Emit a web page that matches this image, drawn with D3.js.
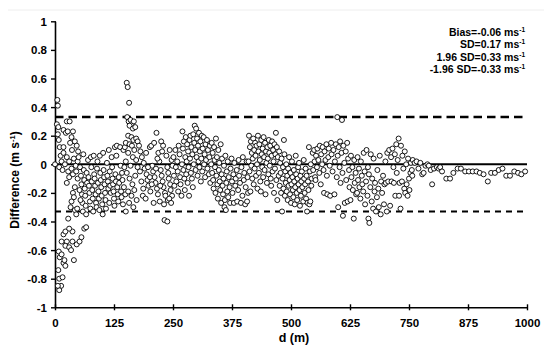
<!DOCTYPE html>
<html>
<head>
<meta charset="utf-8">
<script src="https://cdn.jsdelivr.net/npm/d3@7"></script>
<style>
  body { margin: 0; background: #fff; }
  svg text { font-family: "Liberation Sans", Arial, sans-serif; font-weight: bold; fill: #000; }
</style>
</head>
<body>
<svg id="chart" width="550" height="353"></svg>
<script>
// tick values
var xTicks = [0, 125, 250, 375, 500, 625, 750, 875, 1000];
var yTicks = [-1, -0.8, -0.6, -0.4, -0.2, 0, 0.2, 0.4, 0.6, 0.8, 1];

// reference lines (m s-1)
var bias = -0.06;
var upperLimit = 0.33;
var lowerLimit = -0.33;
var statLines = ["Bias=-0.06 ms", "SD=0.17 ms", "1.96 SD=0.33 ms", "-1.96 SD=-0.33 ms"];

// points, [d (m), difference (m s-1)], by distance range
var near = [
  [0,0],[5,.45],[6,.41],[4,.28],[7,.26],[6,.21],[8,.17],[10,.12],[12,.06],[14,.02],[9,-.02],
  [25,.30],[31,.30],[18,.24],[23,.22],[27,.23],[38,.23],[35,.19],[42,.16],[32,.15],[46,.13],
  [36,.10],[49,.09],[18,.12],[18,.08],[25,.05],[21,0],[30,.02],[40,.04],[44,-.01],[48,.02],
  [8,-.61],[10,-.65],[7,-.74],[9,-.8],[13,-.85],[9,-.88],[6,-.85],[16,-.79],[18,-.69],[14,-.63],
  [20,-.67],[22,-.71],[14,-.54],[18,-.49],[22,-.47],[25,-.54],[22,-.57],[30,-.58],[34,-.6],
  [37,-.54],[37,-.47],[30,-.45],[40,-.67],[46,-.56],[52,-.54],[56,-.51],[62,-.45],[66,-.44],
  [25,-.13],[28,-.38],[33,-.3],[35,-.26],[38,-.2],[40,-.23],[42,-.32],[42,-.16],[45,-.35],
  [47,-.31],[48,-.1],[28,-.05],[35,-.03],[16,-.04],[30,-.09],[38,-.07],[45,-.05]
];
var band50 = [
  [50,.05],[53,-.02],[55,-.08],[56,-.14],[57,-.21],[58,-.27],[59,-.33],[52,-.18],[54,-.25],
  [60,.07],[61,-.04],[62,-.11],[63,-.17],[64,-.22],[65,-.29],[66,-.35],[67,-.06],[68,-.13],
  [70,.03],[71,-.09],[72,-.15],[73,-.2],[74,-.26],[75,-.31],[76,.05],[77,-.02],[78,-.12],
  [79,-.18],[80,-.24],[81,-.33],[82,.06],[83,-.07],[84,-.1],[85,-.15],[86,-.21],[87,-.27],
  [88,-.3],[89,-.03],[90,.02],[91,-.13],[92,-.19],[93,-.24],[94,-.32],[95,.06],[96,-.06],
  [97,-.11],[98,-.16],[99,-.22],[100,-.28],[101,-.35],[102,.08],[103,-.04],[104,-.09],
  [105,-.14],[106,-.2],[107,-.25],[108,-.31],[110,.01],[111,-.08],[112,-.12],[113,-.17],
  [114,.1],[115,-.27],[116,-.05],[117,-.15],[118,-.2],[120,.05],[121,-.02],[122,-.1],
  [123,-.14],[124,-.19],[125,-.24],[126,-.29],[127,.12],[128,-.07],[129,-.12],[130,.06],
  [131,.13],[132,-.16],[133,-.21],[134,-.26],[135,-.09],[136,-.13],[138,.12],[139,-.01],
  [140,-.19],[141,-.23],[142,-.06],[143,-.11],[144,-.28],[145,.1],[146,-.16],[147,-.02],
  [148,.12],[149,-.21]
];
var band150 = [
  [152,.57],[154,.54],[157,.43],[153,.33],[156,.3],[160,.31],[162,.28],[158,.27],[165,.25],
  [170,.26],[167,.3],[155,.2],[162,.19],[166,.17],[150,.15],[158,.14],[163,.13],[172,.18],
  [175,.16],[168,.1],[155,.08],[165,.05],[172,.03],[150,.02],[160,-.01],[175,-.02],[152,-.06],
  [158,-.1],[164,-.14],[170,-.08],[155,-.19],[162,-.22],[168,-.18],[173,-.25],[150,-.33],
  [157,-.27],[166,-.3],
  [178,.13],[181,.09],[184,.05],[186,-.22],[188,.01],[190,-.03],[192,-.24],[194,-.07],
  [196,-.11],[198,-.15],[201,.12],[202,-.19],[204,.13],[206,-.01],[208,-.05],[210,.15],
  [211,-.09],[213,-.13],[215,.22],[216,-.17],[218,-.21],[219,.08],[221,.02],[222,-.26],
  [224,-.04],[225,.16],[226,-.08],[228,-.12],[229,.13],[230,-.16],[231,-.28],[232,-.39],
  [233,-.2],[236,.06],[238,-.4],[238,-.02],[239,-.25],[240,-.06],[241,-.1],[243,.1],
  [244,-.14],[245,-.18],[247,.03],[248,-.22],[249,-.01],[180,-.05],[183,-.12],[187,-.17],
  [193,.08],[197,-.02],[201,-.09],[205,-.14],[209,-.27],[214,-.03],[217,.04],[223,-.15],
  [227,.09],[234,-.22],[242,-.24],[246,-.27]
];
var band250 = [
  [251,.05],[252,-.08],[253,-.15],[255,.1],[256,-.02],[257,-.12],[259,.02],[260,-.05],
  [261,-.19],[262,.13],[264,.07],[265,-.09],[266,-.14],[268,-.22],[269,0],[270,.23],
  [271,.11],[272,-.04],[273,.16],[274,-.1],[275,-.18],[276,.05],[277,.19],[278,-.07],
  [279,.02],[280,.14],[281,-.13],[282,.09],[283,-.02],[284,-.22],[285,.17],[286,.04],
  [287,.2],[288,-.06],[289,.12],[290,-.1],[291,.07],[292,-.16],[293,.21],[294,0],[295,.15],
  [296,.27],[297,.1],[298,-.04],[299,.25],[300,.05],[301,.18],[302,-.08],[303,.13],[304,.02],
  [305,.22],[306,-.02],[307,.09],[308,.16],[309,-.12],[310,.04],[311,.2],[312,-.05],
  [313,.11],[315,.19],[316,0],[317,.07],[318,-.09],[319,.14],[320,.03],[322,.17],[323,-.03],
  [324,.1],[326,-.07],[327,.05],[328,.13],[329,-.13]
];
var band330 = [
  [331,0],[332,.15],[333,-.06],[334,.08],[335,-.11],[336,-.17],[337,.12],[338,.03],[339,-.02],
  [340,-.2],[341,.18],[342,-.08],[343,.05],[344,-.14],[345,-.24],[346,.1],[347,-.04],
  [348,.01],[349,-.12],[350,-.18],[351,.14],[352,-.27],[353,-.07],[354,.04],[355,-.15],
  [356,-.21],[357,-.1],[358,-.01],[359,-.3],[360,-.25],[361,.06],[362,-.32],[363,-.13],
  [364,-.05],[365,-.19],[366,.02],[367,-.23],[368,-.09],[370,-.16],[371,-.27],[372,-.03],
  [374,.04],[375,-.12],[376,-.2],[378,-.07],[379,-.27],[380,.01],[382,-.15],[383,-.1],
  [385,-.04],[386,-.26],[388,-.18],[389,.03],[390,-.08],[392,-.13],[394,-.27],[395,-.02],
  [397,-.22],[398,.05],[400,-.11],[401,-.06],[403,-.28],[404,-.16],[406,.02],[407,-.26],
  [408,-.09],[409,-.2]
];
var band410 = [
  [410,.02],[411,.2],[412,-.05],[413,.12],[414,-.19],[415,.16],[416,-.01],[417,.08],
  [418,-.1],[419,.04],[420,.18],[421,-.14],[422,.1],[423,-.03],[424,.15],[425,.06],
  [426,-.08],[427,.13],[428,0],[429,-.17],[430,.2],[431,.09],[432,-.06],[433,.14],[434,.03],
  [435,-.12],[436,-.19],[437,.17],[438,.07],[439,-.02],[440,.11],[441,-.09],[442,.19],
  [443,.05],[444,-.04],[445,.15],[446,-.21],[447,.09],[448,.01],[449,-.13],[450,.12],
  [451,.04],[452,-.07],[453,.17],[454,.08],[455,-.01],[456,.13],[457,-.1],[458,-.15],
  [459,.06],[460,.16],[461,-.05],[462,.1],[463,.02],[464,-.2],[465,.14],[466,-.03],
  [467,.07],[468,.22],[469,-.11],[470,.12],[471,-.25],[472,.05],[474,-.08],[475,.09],
  [476,-.15],[477,.01],[478,-.06],[479,-.2]
];
var band480 = [
  [480,.04],[481,-.33],[482,-.1],[483,-.02],[484,-.17],[485,.17],[486,.07],[487,-.22],
  [488,-.05],[489,-.13],[490,0],[491,-.19],[492,-.08],[493,-.25],[494,-.03],[495,-.15],
  [496,.05],[497,-.11],[498,-.21],[499,-.06],[500,-.27],[501,-.14],[502,.02],[503,-.09],
  [504,-.18],[505,-.23],[506,-.04],[507,-.12],[508,-.28],[509,-.16],[510,.06],[511,-.07],
  [512,-.2],[513,-.25],[514,-.1],[515,-.02],[516,-.14],[517,.01],[518,-.18],[519,-.29],
  [520,-.08],[521,-.22],[522,-.12],[523,-.05],[524,-.16],[526,-.26],[527,.03],[528,-.1],
  [529,-.2],[530,-.14],[531,-.03],[532,-.24],[533,-.08],[534,-.33],[535,-.27],[536,-.12],
  [537,-.18],[538,.12],[539,-.28],[540,-.05],[541,-.26],[542,0],[543,-.15],[544,-.1]
];
var band545 = [
  [546,.08],[547,-.04],[549,.1],[550,.02],[551,-.09],[552,-.11],[553,.06],[555,-.02],
  [556,.11],[558,.03],[560,-.06],[561,.13],[563,-.14],[564,.07],[566,0],[567,.12],[569,-.04],
  [570,-.2],[571,.09],[573,.03],[575,.14],[576,-.08],[577,-.21],[579,.05],[580,.11],
  [582,-.01],[583,-.22],[585,.15],[586,.07],[588,-.05],[590,.1],[592,-.21],[593,.02],
  [595,.14],[597,-.09],[598,.33],[599,.06],[600,-.3],[601,.12],[603,-.02],[604,.16],
  [605,-.13],[607,.08],[608,.31],[609,-.06],[610,-.36],[611,.13],[613,.01],[614,-.27],
  [616,.09],[617,-.11],[619,.15],[620,-.26],[621,.04],[623,-.04],[624,-.16]
];
var band625 = [
  [626,-.25],[627,.06],[628,-.09],[630,-.02],[631,-.18],[633,-.38],[634,.03],[635,-.13],
  [637,-.06],[638,-.21],[640,-.2],[641,.05],[642,-.11],[644,-.03],[645,-.16],[647,-.24],
  [648,.02],[650,-.08],[651,-.14],[653,-.19],[654,.08],[656,-.05],[657,-.28],[659,-.12],
  [660,.1],[662,-.22],[663,-.02],[664,-.38],[665,-.07],[666,-.41],[668,-.16],[669,.07],
  [671,-.26],[672,-.1],[674,-.31],[675,.04],[677,-.19],[678,-.13],[680,-.33],[682,-.23],
  [683,-.04],[685,-.17],[686,-.3],[688,.06],[690,-.35],[691,-.12],[693,-.2],[695,-.08],
  [697,-.28],[698,-.14]
];
var band700 = [
  [700,.02],[701,-.13],[703,-.33],[704,.08],[706,-.12],[708,.1],[710,-.29],[712,.05],
  [713,-.12],[715,.11],[717,-.02],[718,-.13],[720,.07],[721,-.22],[723,.14],[724,-.06],
  [726,.03],[728,.18],[729,-.22],[730,-.13],[732,-.31],[733,.13],[735,-.12],[736,.06],
  [738,-.03],[740,-.17],[741,.09],[742,-.2],[744,0],[745,-.14],[747,-.22],[748,.04],
  [750,-.1],[751,-.18],[753,-.06],[754,.01],[756,-.04],[757,-.08],[758,.03]
];
var far = [
  [762,.01],[766,.02],[770,-.03],[774,.01],[778,-.07],[781,-.06],[785,-.01],[789,0],
  [792,-.01],[796,-.04],[799,-.14],[803,-.03],[809,-.02],[813,-.03],[816,-.02],[820,-.05],
  [829,-.1],[837,-.1],[844,-.06],[853,-.03],[860,-.03],[869,-.05],[877,-.05],[885,-.05],
  [893,-.05],[900,-.06],[908,-.07],[917,-.12],[924,-.06],[932,-.06],[940,-.04],[948,-.03],
  [956,-.08],[964,-.08],[973,-.05],[981,-.06],[988,-.07],[996,-.05]
];

var points = near.concat(band50, band150, band250, band330, band410, band480,
                         band545, band625, band700, far);

var svg = d3.select("#chart");
var x = d3.scaleLinear().domain([0, 1000]).range([55, 527]);
var y = d3.scaleLinear().domain([-1, 1]).range([307.3, 21.3]);

// faint frame line at top
svg.append("line")
    .attr("x1", 8).attr("x2", 544).attr("y1", 10).attr("y2", 10)
    .attr("stroke", "#eeeeee").attr("stroke-width", 1);

// y axis
var yAxis = svg.append("g")
    .attr("transform", "translate(" + x(0) + ",0)")
    .call(d3.axisLeft(y).tickValues(yTicks).tickSizeInner(4).tickSizeOuter(0).tickPadding(4)
        .tickFormat(function (d) { return String(+d.toFixed(1)); }));
yAxis.select(".domain").attr("stroke", "#000").attr("stroke-width", 1.6);
yAxis.selectAll(".tick line").attr("stroke", "#000").attr("stroke-width", 1.4).attr("x2", -4).attr("x1", 1);
yAxis.selectAll(".tick text").attr("font-size", "11.5px").attr("dy", "0.35em");

// x axis
var xAxis = svg.append("g")
    .attr("transform", "translate(0," + y(-1) + ")")
    .call(d3.axisBottom(x).tickValues(xTicks).tickSizeInner(3).tickSizeOuter(0).tickPadding(9)
        .tickFormat(d3.format("d")));
xAxis.select(".domain").attr("stroke", "#000").attr("stroke-width", 1.6);
xAxis.selectAll(".tick line").attr("stroke", "#000").attr("stroke-width", 1.4).attr("y1", -3).attr("y2", 3);
xAxis.selectAll(".tick text").attr("font-size", "11.5px");
svg.selectAll(".tick text").style("font-family", "'Liberation Sans', Arial, sans-serif").style("font-weight", "bold");

// zero line and limits of agreement
svg.append("line")
    .attr("x1", x(0)).attr("x2", x(1000)).attr("y1", y(0)).attr("y2", y(0))
    .attr("stroke", "#000").attr("stroke-width", 2);
svg.append("line")
    .attr("x1", x(0)).attr("x2", x(1000)).attr("y1", y(upperLimit)).attr("y2", y(upperLimit))
    .attr("stroke", "#000").attr("stroke-width", 2.5).attr("stroke-dasharray", "8.5,5");
svg.append("line")
    .attr("x1", x(0)).attr("x2", x(1000)).attr("y1", y(lowerLimit)).attr("y2", y(lowerLimit))
    .attr("stroke", "#000").attr("stroke-width", 2).attr("stroke-dasharray", "6,5");

// points
svg.append("g").selectAll("circle")
    .data(points)
    .enter().append("circle")
    .attr("cx", function (d) { return x(d[0]); })
    .attr("cy", function (d) { return y(d[1]); })
    .attr("r", 2.5)
    .attr("fill", "#fff")
    .attr("stroke", "#000")
    .attr("stroke-width", 0.9);

// statistics box
var stats = svg.append("g");
statLines.forEach(function (s, i) {
    var t = stats.append("text")
        .attr("x", 525).attr("y", 36 + i * 12.4)
        .attr("text-anchor", "end")
        .attr("font-size", "10.5px");
    t.append("tspan").text(s);
    t.append("tspan").attr("font-size", "6.5px").attr("dy", -4).text("-1");
});

// axis titles
svg.append("text")
    .attr("x", 294).attr("y", 342)
    .attr("text-anchor", "middle")
    .attr("font-size", "12.5px")
    .text("d (m)");

var yt = svg.append("text")
    .attr("transform", "translate(19,180) rotate(-90)")
    .attr("text-anchor", "middle")
    .attr("font-size", "12px");
yt.append("tspan").text("Difference (m s");
yt.append("tspan").attr("font-size", "7.5px").attr("dy", -4).text("-1");
yt.append("tspan").attr("dy", 4).text(")");
</script>
</body>
</html>
